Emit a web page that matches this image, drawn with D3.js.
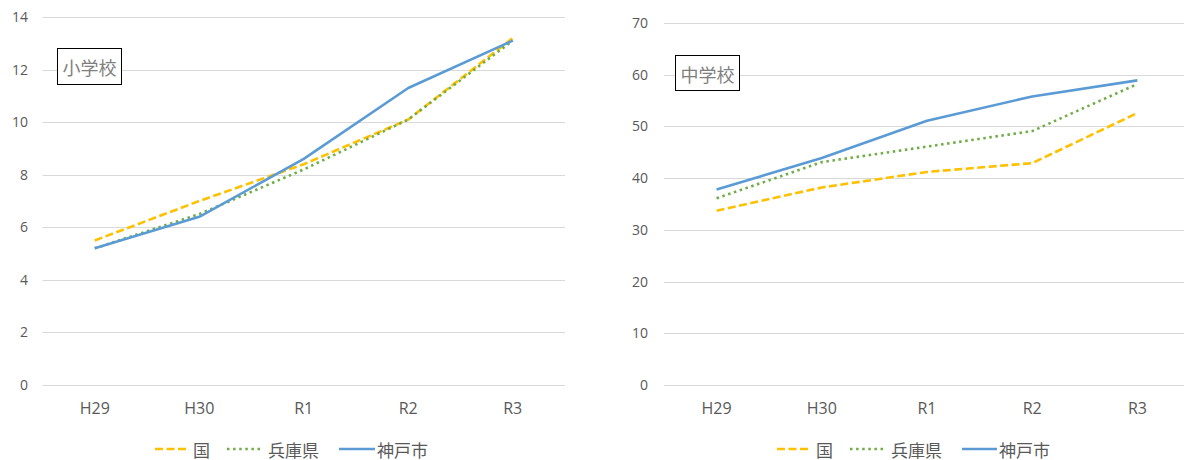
<!DOCTYPE html>
<html>
<head>
<meta charset="utf-8">
<script src="https://cdn.jsdelivr.net/npm/d3@7"></script>
<style>
html,body{margin:0;padding:0;background:#fff;}
svg{display:block;font-family:"Open Sans","Noto Sans CJK JP",sans-serif;}
</style>
</head>
<body>
<svg id="chart" width="1184" height="460"></svg>
<script>
const categories = ["H29", "H30", "R1", "R2", "R3"];
const seriesNames = ["国", "兵庫県", "神戸市"];

// 小学校
const elemKuni = [5.5, 7.0, 8.4, 10.1, 13.2];
const elemHyogo = [5.2, 6.5, 8.2, 10.1, 13.1];
const elemKobe = [5.2, 6.4, 8.6, 11.3, 13.1];
const elemTicks = [0, 2, 4, 6, 8, 10, 12, 14];

// 中学校
const juniorKuni = [33.7, 38.2, 41.2, 42.9, 52.6];
const juniorHyogo = [36.1, 43.1, 46.1, 49.1, 58.2];
const juniorKobe = [37.8, 43.9, 51.1, 55.8, 58.9];
const juniorTicks = [0, 10, 20, 30, 40, 50, 60, 70];

const colors = ["#FFC000", "#70AD47", "#5B9BD5"];
const dashes = ["8,3.5", "2.5,3.6", null];

const svg = d3.select("#chart");

function drawChart(cfg) {
  const g = svg.append("g");
  const x = d3.scaleBand().domain(categories).range([cfg.x0, cfg.x1]);
  const y = d3.scaleLinear().domain([0, d3.max(cfg.ticks)]).range([cfg.y0, cfg.y1]);

  // gridlines
  g.append("g").selectAll("line").data(cfg.ticks).join("line")
    .attr("x1", cfg.x0).attr("x2", cfg.x1)
    .attr("y1", d => Math.round(y(d)) + 0.5).attr("y2", d => Math.round(y(d)) + 0.5)
    .attr("stroke", "#D9D9D9").attr("stroke-width", 1);

  // y axis labels
  const yAxis = d3.axisLeft(y).tickValues(cfg.ticks).tickSize(0).tickPadding(0);
  const ya = g.append("g").attr("transform", `translate(${cfg.yLabelX},0)`).call(yAxis);
  ya.select(".domain").remove();
  ya.selectAll("text").attr("fill", "#595959").style("font-size", "14px")
    .style("font-family", '"Open Sans","Noto Sans CJK JP",sans-serif');

  // x axis labels
  const xAxis = d3.axisBottom(x).tickSize(0).tickPadding(0);
  const xa = g.append("g").attr("transform", `translate(0,${cfg.xLabelY})`).call(xAxis);
  xa.select(".domain").remove();
  xa.selectAll("text").attr("fill", "#595959").style("font-size", "16px")
    .style("font-family", '"Open Sans","Noto Sans CJK JP",sans-serif');

  // lines
  const line = d3.line().x((d, i) => x(categories[i]) + x.bandwidth() / 2).y(d => y(d));
  cfg.series.forEach((vals, si) => {
    g.append("path").datum(vals)
      .attr("d", line)
      .attr("fill", "none")
      .attr("stroke", colors[si])
      .attr("stroke-width", 2.6)
      .attr("stroke-linejoin", "round")
      .attr("stroke-dasharray", dashes[si]);
  });

  // title box
  g.append("rect")
    .attr("x", cfg.box[0] + 0.5).attr("y", cfg.box[1] + 0.5)
    .attr("width", cfg.box[2]).attr("height", cfg.box[3])
    .attr("fill", "#fff").attr("stroke", "#000").attr("stroke-width", 1);
  g.append("text")
    .attr("x", cfg.box[0] + cfg.box[2] / 2 + 0.5).attr("y", cfg.box[1] + cfg.box[3] / 2 + 1)
    .attr("text-anchor", "middle").attr("dominant-baseline", "central")
    .attr("fill", "#7F7F7F").style("font-size", "18px")
    .style("font-family", '"Noto Sans CJK JP",sans-serif')
    .text(cfg.title);

  // legend
  const lg = g.append("g");
  cfg.legend.forEach((lx, si) => {
    lg.append("line")
      .attr("x1", lx[0]).attr("x2", lx[1]).attr("y1", cfg.legendY).attr("y2", cfg.legendY)
      .attr("stroke", colors[si]).attr("stroke-width", 2.6)
      .attr("stroke-dasharray", dashes[si]);
    lg.append("text")
      .attr("x", lx[1] + (si === 2 ? 2 : 7)).attr("y", cfg.legendY)
      .attr("dominant-baseline", "central")
      .attr("fill", "#595959").style("font-size", "17px")
      .style("font-family", '"Noto Sans CJK JP",sans-serif')
      .text(seriesNames[si]);
  });
}

drawChart({
  x0: 42.5, x1: 565, y0: 385, y1: 17,
  ticks: elemTicks,
  yLabelX: 28, xLabelY: 403,
  series: [elemKuni, elemHyogo, elemKobe],
  title: "小学校", box: [57, 48, 64, 36],
  legendY: 449,
  legend: [[155, 186], [227, 261], [339, 375]]
});

drawChart({
  x0: 664, x1: 1190, y0: 385, y1: 23,
  ticks: juniorTicks,
  yLabelX: 648, xLabelY: 403,
  series: [juniorKuni, juniorHyogo, juniorKobe],
  title: "中学校", box: [675, 55, 64, 35],
  legendY: 449,
  legend: [[777, 809], [850, 884], [962, 997]]
});
</script>
</body>
</html>
